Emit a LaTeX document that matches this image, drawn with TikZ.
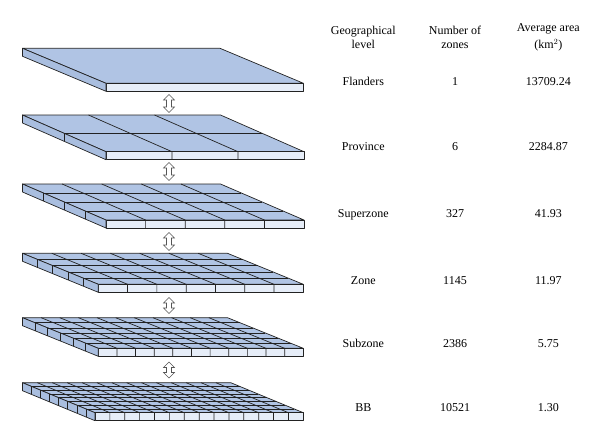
\documentclass[tikz,border=0pt]{standalone}
\usepackage{fontspec}
\setmainfont{Liberation Serif}
\usetikzlibrary{shapes.arrows}
\definecolor{topcol}{HTML}{B0C4E4}
\definecolor{frontcol}{HTML}{E6EDF8}
\definecolor{sidecol}{HTML}{A9BEDF}
\definecolor{edgecol}{HTML}{222222}
\definecolor{arrowcol}{HTML}{555555}
\newcommand{\slabT}{8}
\newcommand{\myslab}[7]{%
  \filldraw[topface] (#1,#2) -- ++(#3,0) -- ++(#4,#5) -- ++(-#3,0) -- cycle;
  \filldraw[frontface] (#1+#4,#2+#5) -- ++(#3,0) -- ++(0,\slabT) -- ++(-#3,0) -- cycle;
  \filldraw[sideface] (#1,#2) -- ++(#4,#5) -- ++(0,\slabT) -- ++(-#4,-#5) -- cycle;
  \ifnum#6>1
    \pgfmathtruncatemacro{\lastcol}{#6-1}%
    \foreach \i in {1,...,\lastcol}{%
      \draw[gridline] (#1+\i*#3/#6,#2) -- ++(#4,#5) -- ++(0,\slabT);
    }%
  \fi
  \ifnum#7>1
    \pgfmathtruncatemacro{\lastrow}{#7-1}%
    \foreach \j in {1,...,\lastrow}{%
      \draw[gridline] (#1+\j*#4/#7,#2+\j*#5/#7+\slabT) -- ++(0,-\slabT) -- ++(#3,0);
    }%
  \fi
}
\begin{document}
\begin{tikzpicture}[x=1pt,y=-1pt,
  topface/.style={fill=topcol,draw=edgecol,line width=0.7pt,line join=round},
  frontface/.style={fill=frontcol,draw=edgecol,line width=0.7pt,line join=round},
  sideface/.style={fill=sidecol,draw=edgecol,line width=0.7pt,line join=round},
  gridline/.style={draw=edgecol,line width=0.7pt},
  updown/.style={shape=double arrow,rotate=90,fill=white,draw=arrowcol,line width=0.6pt,
    minimum height=#1,minimum width=10.5pt,double arrow head extend=3pt,inner sep=2.2pt,
    double arrow tip angle=90},
  lbl/.style={font=\fontsize{12}{14}\selectfont,anchor=base,inner sep=0pt}]
\useasboundingbox (0,0) rectangle (600,440);
% slabs: x0, y0, W, dx, dy, cols, rows
\myslab{22.5}{48.3}{197.5}{83.5}{35}{1}{1}
\myslab{22.5}{115}{198}{83.5}{36.7}{3}{2}
\myslab{22.5}{184}{198}{83.5}{36}{5}{4}
\myslab{22.5}{253.3}{205}{75.8}{31}{7}{5}
\myslab{22.5}{317.7}{205}{75.8}{30.6}{11}{6}
\myslab{22.5}{382.7}{208.3}{72.5}{30}{14}{8}
% arrows
\node[updown=18pt] (a1) at (169,103.5) {};
\node[updown=18pt] (a2) at (169,171.5) {};
\node[updown=18pt] (a3) at (169,241.5) {};
\node[updown=16pt] (a4) at (169,305.5) {};
\node[updown=16pt] (a5) at (169,370) {};
% header
\node[lbl] (h1a) at (363.3,34) {Geographical};
\node[lbl] (h1b) at (363.3,48) {level};
\node[lbl] (h2a) at (455,34) {Number of};
\node[lbl] (h2b) at (455,48) {zones};
\node[lbl] (h3a) at (548.3,31) {Average area};
\node[lbl] (h3b) at (548.3,48.5) {(km$^{2}$)};
% rows
\node[lbl] (l1) at (363.3,85) {Flanders};
\node[lbl] (n1) at (455,85) {1};
\node[lbl] (v1) at (548.3,85) {13709.24};
\node[lbl] (l2) at (363.3,150) {Province};
\node[lbl] (n2) at (455,150) {6};
\node[lbl] (v2) at (548.3,150) {2284.87};
\node[lbl] (l3) at (363.3,217.5) {Superzone};
\node[lbl] (n3) at (455,217.5) {327};
\node[lbl] (v3) at (548.3,217.5) {41.93};
\node[lbl] (l4) at (363.3,284) {Zone};
\node[lbl] (n4) at (455,284) {1145};
\node[lbl] (v4) at (548.3,284) {11.97};
\node[lbl] (l5) at (363.3,347.5) {Subzone};
\node[lbl] (n5) at (455,347.5) {2386};
\node[lbl] (v5) at (548.3,347.5) {5.75};
\node[lbl] (l6) at (363.3,411.5) {BB};
\node[lbl] (n6) at (455,411.5) {10521};
\node[lbl] (v6) at (548.3,411.5) {1.30};
\end{tikzpicture}
\end{document}
